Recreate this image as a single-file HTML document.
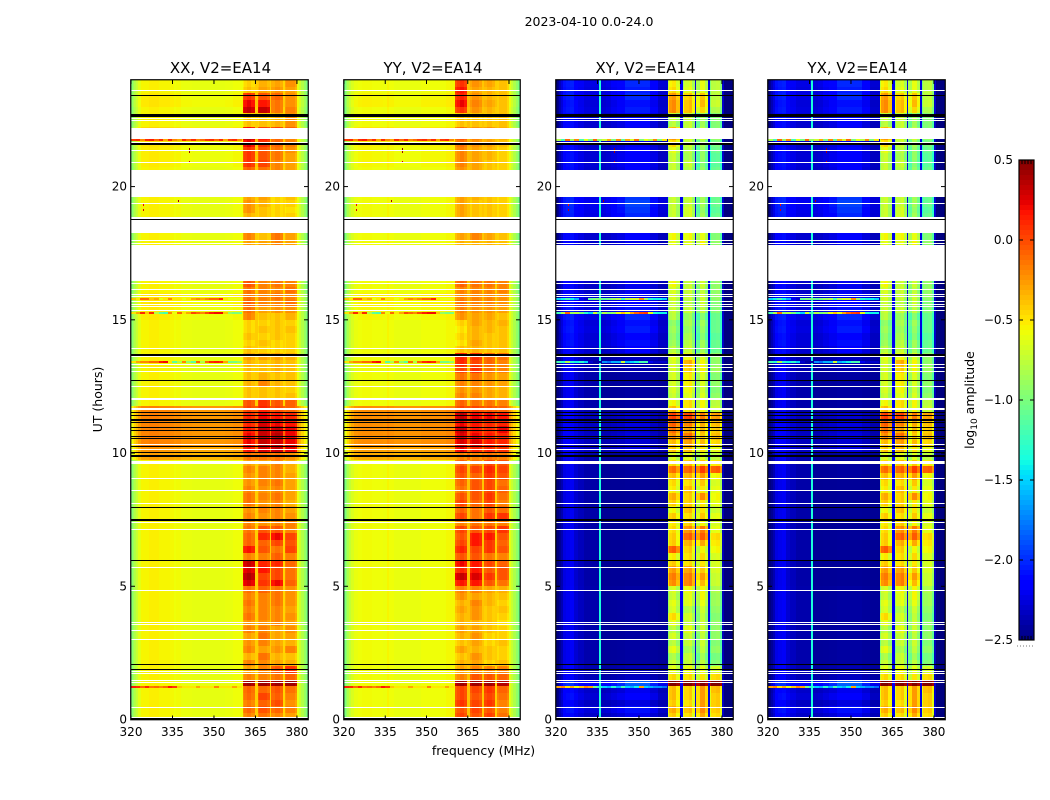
<!DOCTYPE html>
<html lang="en">
<head>
<meta charset="utf-8">
<title>2023-04-10 0.0-24.0</title>
<style>
html,body{margin:0;padding:0;background:#fff;}
svg{display:block;font-family:"DejaVu Sans","Liberation Sans",sans-serif;}
text{fill:#000;}
</style>
</head>
<body>
<svg id="figure" xmlns="http://www.w3.org/2000/svg" width="1050" height="800" viewBox="0 0 1050 800">
  <text x="589" y="26" font-size="12.5" text-anchor="middle">2023-04-10 0.0-24.0</text>
  <text x="483.5" y="755" font-size="12.5" text-anchor="middle">frequency (MHz)</text>
  <text transform="translate(102,399.5) rotate(-90)" font-size="12.5" text-anchor="middle">UT (hours)</text>
  <text transform="translate(974,400) rotate(-90)" font-size="12.5" text-anchor="middle">log<tspan font-size="9" dy="3">10</tspan><tspan dy="-3"> amplitude</tspan></text>
  <g id="panels"></g>
  <g id="colorbar"></g>
</svg>
<script>
// ---------- chart data ----------
const panelTitles = ["XX, V2=EA14", "YY, V2=EA14", "XY, V2=EA14", "YX, V2=EA14"];
const freqTicks = [320, 335, 350, 365, 380];
const utTicks = [0, 5, 10, 15, 20];
const colorbarTicks = [0.5, 0.0, -0.5, -1.0, -1.5, -2.0, -2.5];

// frequency column boundaries (MHz)
const channelEdges = [320,320.6,321.2,321.8,322.6,323.5,325,326.5,328,330,332,334,335.7,336.3,338,340,342,345,348,351,354,357,360.4,361,362,363.5,364.8,365.8,366.4,368,369.2,370.2,370.8,372,373.8,374.9,375.6,376.2,378,379.4,380,380.8,381.6,382.4,383.2,384];
// sub-band index of each column; -1 = out of band
const channelBand = [-1,-1,-1,-1,-1,-1,-1,-1,-1,-1,-1,-1,-1,-1,-1,-1,-1,-1,-1,-1,-1,-1,0,0,0,0,-1,1,1,1,1,-1,2,2,2,-1,3,3,3,3,-1,-1,-1,-1,-1];

// per-column spectral level (log10 amp); in-band columns are offsets from the band value
const xxChannels = [-0.95,-0.88,-0.8,-0.72,-0.62,-0.55,-0.55,-0.53,-0.53,-0.55,-0.55,-0.56,-0.58,-0.57,-0.6,-0.6,-0.61,-0.61,-0.61,-0.61,-0.6,-0.58,-0.18,-0.12,-0.07,-0.13,-0.42,-0.15,-0.08,-0.08,-0.13,-0.42,-0.13,-0.08,-0.13,-0.45,-0.13,-0.08,-0.08,-0.15,-0.6,-0.7,-0.8,-0.9,-1.0];
const yyChannels = [-1.0,-0.92,-0.82,-0.74,-0.66,-0.6,-0.58,-0.57,-0.57,-0.58,-0.58,-0.59,-0.55,-0.58,-0.6,-0.6,-0.6,-0.6,-0.58,-0.58,-0.58,-0.56,-0.18,-0.12,-0.07,-0.13,-0.38,-0.15,-0.08,-0.08,-0.13,-0.4,-0.13,-0.08,-0.13,-0.42,-0.13,-0.08,-0.08,-0.15,-0.62,-0.72,-0.82,-0.92,-1.02];
const crossChannels = [-2.5,-2.5,-2.45,-2.38,-2.25,-2.22,-2.2,-2.3,-2.35,-2.4,-2.4,-2.4,-1.35,-2.45,-2.45,-2.45,-2.45,-2.45,-2.45,-2.45,-2.45,-2.45,-0.12,0.1,0.15,-0.02,-2.2,-0.08,0.1,0.15,-0.05,-2.25,-0.08,0.15,-0.05,-2.25,-0.1,0.12,0.15,-0.05,-2.35,-2.5,-2.5,-2.5,-2.5];
// how strongly the per-row background level shows in each cross-hand column
const crossWeights = [0,0.1,0.2,0.25,0.3,0.3,0.3,0.3,0.3,0.3,0.3,0.3,0,0.35,0.4,0.5,0.6,0.8,0.8,0.8,0.55,0.3,0,0,0,0,0,0,0,0,0,0,0,0,0,0,0,0,0,0,0.1,0,0,0,0];

// out-of-band level per quarter-hour row, UT 0 upward
const copolRowLevels = [0,0,0,0, 0,0,0,0, 0,0,0,0, 0,0,0,0, 0,0,0,0, 0,0,0,0, 0,0,0,0, 0,0,0,0, 0,0,0,0, 0,0,0,0.26, 0.3,0.36,0.36,0.36, 0.36,0.36,0.36,0, 0,0,0,0, 0,0,0,0, 0,0,0,0, 0.02,0.02,0.04,0.04, 0,0,0,0, 0,0,0,0, 0,0,0,0, 0,0,0,0, 0,0,0,0.02, 0.02,0.02,0.04,0.04, 0.08,0,0,0, 0.04,0.02,0,0];
const crossRowLevels = [0.3,0.45,0.25,0.4, 0.3,0.75,0.15,0.1, 0.05,0.05,0.05,0.05, 0.05,0.05,0.05,0.05, 0.05,0.05,0.05,0.05, 0.02,0.02,0.02,0.02, 0.02,0.02,0.02,0.02, 0.02,0.02,0.02,0.02, 0.02,0.02,0.02,0.02, 0.05,0.05,0.05,0.05, 0.25,0.2,0.25,0.2, 0.25,0.2,0.05,0.05, 0.05,0.05,0.05,0.05, 0.1,0.1,0.15,0.35, 0.45,0.4,0.5,0.45, 0.55,0.45,0.4,0.4, 0.3,0.3,0,0, 0,0,0,0.3, 0.35,0.35,0,0.55, 0.6,0.65,0.6,0.55, 0,0,0.35,0.4, 0.4,0.35,0.3,0.45, 0.3,0.35,0.35,0.5, 0.45,0.55,0.5,0.55];

// sub-band level [band0,band1,band2,band3] per quarter-hour row, UT 0 upward
const xxBands = [
[-.1,-.05,-.1,-.2],[-.02,.05,0,-.1],[-.08,0,.08,-.15],[-.02,.1,.02,-.1],
[0,-.02,.05,-.05],[.5,.5,.5,.5],[-.1,-.1,-.05,0],[-.2,-.1,.05,.15],
[-.1,-.12,-.2,-.25],[-.25,-.05,-.25,-.3],[-.1,-.2,-.15,-.1],[-.15,-.1,-.2,-.25],
[-.2,-.05,-.2,-.2],[-.1,-.1,-.2,-.15],[-.15,-.15,-.1,-.2],[-.05,-.1,-.1,-.15],
[-.1,-.1,-.1,-.2],[-.05,-.1,-.05,-.15],[-.1,-.1,-.05,-.15],[-.05,0,-.05,-.15],
[.35,.15,.3,0],[.45,.1,.1,-.05],[.35,.25,.1,-.05],[.4,.2,.2,-.02],
[-.1,-.1,.02,-.1],[.25,.05,-.05,.1],[0,0,.1,.05],[0,.2,.3,.1],
[-.05,.05,.05,-.1],[-.1,-.15,-.1,-.1],[-.1,-.15,-.1,-.15],[-.15,-.1,-.1,-.2],
[-.05,-.15,-.1,-.25],[-.05,-.1,-.05,-.2],[-.1,-.15,-.1,-.2],[-.15,-.1,-.05,-.2],
[-.15,-.1,-.1,-.2],[-.1,-.1,-.1,-.25],[-.2,-.2,-.1,-.25],[-.05,-.05,-.05,-.15],
[.25,.35,.4,.3],[.3,.4,.4,.3],[.3,.4,.45,.3],[.25,.4,.4,.3],
[.2,.35,.3,.25],[.2,.3,.25,.2],[.1,.2,.1,0],[.05,.15,.05,0],
[-.3,-.3,-.3,-.3],[-.3,-.3,-.3,-.35],[-.25,-.1,-.25,-.3],[-.3,-.25,-.3,-.3],
[-.3,-.3,-.25,-.3],[-.25,-.3,-.25,-.3],[-.2,-.2,-.2,-.25],[-.3,-.35,-.35,-.35],
[-.35,-.3,-.35,-.35],[-.3,-.35,-.3,-.35],[-.35,-.3,-.3,-.3],[-.35,-.35,-.3,-.35],
[-.1,-.3,-.3,-.25],[-.05,-.2,-.15,-.15],[0,-.1,-.1,-.05],[-.05,-.1,-.05,-.1],
[-.05,-.1,-.1,-.05],[.05,-.1,-.05,-.1],[0,0,0,0],[0,0,0,0],
[0,0,0,0],[0,0,0,0],[0,0,0,0],[-.2,-.2,-.1,-.2],
[-.1,-.3,-.05,-.2],[-.25,-.1,-.05,-.2],[0,0,0,0],[-.25,-.3,-.35,-.35],
[-.15,-.3,-.35,-.4],[-.15,-.25,-.35,-.35],[-.2,-.2,-.35,-.3],[-.25,-.3,-.3,-.15],
[0,0,0,0],[0,0,0,0],[0,-.05,-.1,-.2],[.15,.1,-.1,-.2],
[.15,.05,-.05,-.2],[.15,.05,-.05,-.15],[.3,.15,0,-.1],[.4,.25,0,-.1],
[.25,.1,.1,0],[-.3,-.3,-.25,-.15],[-.3,-.3,-.25,-.15],[.4,.4,-.05,-.1],
[.3,.25,-.05,-.15],[.15,.05,0,-.15],[-.3,-.2,-.15,-.2],[-.35,-.25,-.2,-.15]];
const yyBands = [
[.1,.05,.12,-.05],[.05,.1,.05,-.1],[.15,.1,.15,-.1],[.1,.05,.1,-.05],
[.1,.1,.15,0],[.5,.5,.5,.45],[-.1,.05,.05,0],[-.2,-.1,-.1,-.1],
[-.25,-.2,-.35,-.3],[-.3,-.15,-.3,-.35],[-.2,-.25,-.3,-.35],[-.3,-.2,-.35,-.3],
[-.25,-.15,-.35,-.35],[-.2,-.2,-.3,-.35],[-.25,-.25,-.3,-.4],[-.25,-.15,-.3,-.35],
[-.2,-.15,-.3,-.3],[-.25,-.1,-.25,-.35],[-.15,-.2,-.25,-.3],[-.1,-.1,-.2,-.25],
[.25,.25,.05,-.05],[.4,.35,.15,.05],[.2,.25,.05,.05],[.3,.25,.1,0],
[.05,.05,-.05,-.1],[.2,.1,.15,.05],[.1,.25,.15,0],[.05,.25,.25,.05],
[.1,.05,.1,.15],[-.1,-.05,-.05,-.1],[.1,-.05,.15,.15],[0,-.05,.05,-.05],
[.1,0,.1,-.1],[.05,.05,.15,-.05],[-.05,.05,.1,0],[0,.05,.1,-.05],
[.05,0,.15,.05],[.1,.1,.2,.1],[0,-.05,.1,.05],[-.1,-.1,-.05,-.1],
[.3,.2,.2,.15],[.35,.35,.25,.2],[.35,.3,.25,.2],[.4,.25,.2,.3],
[.3,.25,.2,.2],[.4,.3,.3,.25],[.1,.1,.05,0],[0,-.05,-.05,-.1],
[-.1,-.1,-.2,-.25],[-.15,-.15,-.2,-.25],[-.1,-.1,-.15,-.2],[-.05,-.05,-.15,-.2],
[.1,.15,-.05,-.1],[.2,.1,0,-.1],[.2,.15,0,-.05],[-.3,-.25,-.3,-.3],
[-.4,-.2,-.3,-.3],[-.35,-.25,-.3,-.3],[-.4,-.25,-.25,-.3],[-.35,-.2,-.25,-.25],
[-.15,-.2,-.2,-.3],[-.1,-.15,-.15,-.2],[-.05,-.1,-.1,-.15],[-.1,-.1,-.1,-.15],
[-.1,-.1,-.1,-.1],[0,-.05,-.05,-.1],[0,0,0,0],[0,0,0,0],
[0,0,0,0],[0,0,0,0],[0,0,0,0],[-.25,-.25,-.25,-.3],
[-.2,-.1,-.2,-.3],[-.25,-.2,-.2,-.3],[0,0,0,0],[-.2,-.3,-.3,-.35],
[-.2,-.3,-.3,-.35],[-.2,-.3,-.3,-.35],[-.2,-.25,-.3,-.35],[-.15,-.25,-.3,-.3],
[0,0,0,0],[0,0,0,0],[-.15,-.2,-.3,-.35],[-.1,-.2,-.3,-.35],
[-.1,-.2,-.25,-.35],[-.1,-.2,-.25,-.35],[-.05,-.15,-.2,-.3],[.05,-.1,-.2,-.25],
[-.05,-.15,-.15,-.25],[-.3,-.3,-.3,-.3],[-.3,-.3,-.3,-.3],[.15,-.15,-.25,-.3],
[.3,-.1,-.2,-.3],[.2,-.15,-.25,-.3],[.25,-.2,-.25,-.3],[.15,-.15,-.2,-.3]];
const crossBands = [
[-.55,-.6,-.45,-.6],[-.45,-.5,-.35,-.55],[-.55,-.6,-.4,-.55],[-.5,-.55,-.4,-.55],
[-.5,-.55,-.4,-.5],[.45,.45,.45,.45],[-.6,-.6,-.65,-.6],[-.75,-.7,-.75,-.8],
[-.85,-.85,-.9,-1.1],[-.95,-.85,-1,-1.15],[-.75,-.95,-.9,-1.05],[-.9,-.85,-.85,-1.1],
[-.8,-.85,-.9,-1.05],[-.9,-.75,-.85,-1.05],[-.75,-.85,-.85,-1.05],[-.6,-.8,-.9,-1.1],
[-.8,-.9,-.85,-1.05],[-.75,-.75,-.75,-1],[-.85,-.75,-.7,-1],[-.8,-.7,-.7,-.95],
[-.35,-.3,-.5,-.85],[-.3,-.3,-.4,-.85],[-.4,-.4,-.55,-.8],[-.55,-.6,-.65,-.8],
[-.65,-.6,-.6,-.8],[-.2,-.55,-.7,-.7],[-.55,-.45,-.45,-.65],[-.55,-.2,-.2,-.6],
[-.6,-.35,-.3,-.75],[-.65,-.55,-.7,-.8],[-.55,-.6,-.55,-.75],[-.7,-.5,-.65,-.85],
[-.55,-.55,-.65,-.75],[-.45,-.55,-.35,-.7],[-.65,-.5,-.65,-.75],[-.6,-.6,-.55,-.8],
[-.5,-.45,-.4,-.7],[-.25,-.2,-.1,-.2],[-.6,-.5,-.55,-.65],[-.8,-.75,-.8,-.9],
[-.55,-.5,-.65,-.75],[-.5,-.4,-.5,-.6],[-.35,-.25,-.55,-.5],[-.25,-.4,-.5,-.55],
[-.2,-.3,-.45,-.5],[-.1,-.1,-.3,-.4],[-.5,-.6,-.7,-.85],[-.7,-.6,-.7,-.9],
[-.85,-.75,-.8,-1.05],[-.8,-.7,-.85,-1.1],[-.8,-.65,-.8,-1.05],[-.8,-.65,-.8,-1.1],
[-.8,-.55,-.7,-1],[-.8,-.45,-.7,-1.05],[-.75,-.7,-.8,-1.05],[-.9,-.85,-1,-1.2],
[-1,-.9,-1,-1.2],[-1.05,-.95,-1.1,-1.25],[-1,-1,-1.05,-1.2],[-1.05,-.95,-1,-1.2],
[-.9,-1,-1.1,-1.2],[-.85,-.85,-.9,-1.1],[-.85,-.9,-.85,-1.1],[-.8,-.85,-.85,-1.05],
[-.8,-.85,-.9,-1.05],[-.7,-.85,-.85,-1.05],[0,0,0,0],[0,0,0,0],
[0,0,0,0],[0,0,0,0],[0,0,0,0],[-.75,-.75,-.7,-1.05],
[-.7,-.7,-.75,-1.1],[-.75,-.7,-.75,-1.1],[0,0,0,0],[-.85,-.8,-1,-1.2],
[-.85,-.8,-1.05,-1.25],[-.85,-.85,-1,-1.2],[-.85,-.85,-1,-1.2],[-.8,-.85,-1,-1.15],
[0,0,0,0],[0,0,0,0],[-.85,-.9,-1.05,-1.2],[-.85,-.85,-1.1,-1.25],
[-.85,-.95,-1.05,-1.25],[-.75,-.9,-1.05,-1.2],[-.6,-.85,-1,-1.15],[-.4,-.8,-.85,-1.05],
[-.5,-.85,-.9,-1.1],[-.9,-.85,-1,-1.1],[-.85,-.85,-1,-1.1],[-.35,-.5,-.6,-.95],
[-.35,-.5,-.5,-.85],[-.4,-.55,-.55,-.9],[-.6,-.75,-.75,-.9],[-.65,-.8,-.75,-.9]];

// masked integrations drawn white: [UT low, UT high]
const maskedSpans = [[.06,.09],[.44,.48],[1.37,1.41],[1.44,1.48],[1.71,1.75],[1.77,1.81],[2.99,3.03],[3.33,3.37],[3.53,3.57],[3.61,3.65],[4.83,4.87],[5.69,5.73],[7.12,7.16],[7.38,7.42],[8.08,8.12],[8.57,8.61],[9.02,9.06],[9.59,9.70],[10.12,10.16],[10.30,10.34],[11.61,11.69],[12.00,12.05],[12.48,12.52],[13.05,13.09],[13.20,13.24],[13.29,13.33],[13.62,13.66],[13.90,13.94],[15.32,15.37],[15.47,15.51],[15.55,15.59],[15.66,15.70],[15.86,15.90],[15.93,15.97],[16.13,16.17],[16.36,16.40],[16.47,17.80],[17.86,17.90],[17.95,17.99],[18.27,18.76],[18.79,18.87],[19.34,19.38],[19.62,20.62],[20.88,20.92],[21.33,21.37],[21.63,21.68],[21.77,22.21],[22.47,22.51],[22.55,22.59],[23.60,23.64]];
// zero-amplitude integrations drawn black: [UT low, UT high]
const zeroSpans = [[0,.04],[1.84,1.89],[2.04,2.08],[5.95,5.98],[7.46,7.53],[7.93,7.99],[9.86,9.93],[9.99,10.03],[10.22,10.26],[10.51,10.55],[10.61,10.65],[10.81,10.85],[10.93,10.97],[11.12,11.16],[11.22,11.26],[11.39,11.43],[11.51,11.55],[12.71,12.75],[13.66,13.72],[18.76,18.79],[21.57,21.63],[22.62,22.72],[23.40,23.44]];

// single integrations with strong interference, 320-360 MHz in 24 equal bins
const speckleTimes = [1.22, 13.4, 15.27, 15.78, 21.73];
const copolSpeckle = [
[.15,.1,-.1,.1,-.15,-.1,-.2,-.1,.15,.05,-.4,-.5,-.5,-.5,-.3,-.5,-.5,-.5,-.2,-.5,-.5,-.5,-.3,-.5],
[-.5,-.3,-.2,-.2,-.1,-.1,.15,.2,-.5,-1.1,-.8,-.2,-.9,-1.1,-.1,-.8,-.1,.1,.15,.1,-.3,-1,-1,-.9],
[-.5,-.3,.1,-.4,.1,-.8,-1.1,-1.2,-.2,-.6,-.1,-.5,-.3,0,-.1,-.2,0,.15,.2,.2,-.4,-.9,-1,-1],
[-.4,-.5,-.1,-.1,-.4,-.3,-.6,-.5,-.2,-.5,-.5,-.6,-.5,-.3,-.2,-.3,-.2,-.1,-.1,.1,-.5,-.6,-.6,-.6],
[.05,.1,-.2,.1,.15,-.1,.1,-.3,.1,-.2,-.3,.1,-.1,.1,-.2,-.1,.05,.1,-.1,.1,-.3,.05,.1,-.2]];
const crossSpeckle = [
[-.3,-.2,-.5,-.3,-.6,-.4,-.2,-.3,-1,-1.3,-1.5,-1.6,-1.3,-1.6,-1.2,-1.5,-1.6,-1.4,-.3,-1.5,-1.6,-1.7,-1.7,-1.8],
[-1.2,-1.3,-.8,-1.3,-1.4,-1.3,-1.5,-2.3,-2.4,-2.4,-1.7,-1.8,-1.6,-1.6,-.7,-1.6,-1.5,-1.4,-1.2,-1.2,-2.2,-2.3,-2.3,-2.3],
[-1.2,-.8,-.1,-.9,-.8,-1,-1.3,-1.5,-.7,-1.2,-.8,-1,-.9,-.6,-.4,-.6,-.3,-.1,0,.05,-.6,-1.3,-1.4,-1.4],
[-1.5,-1.4,-1.2,-1.4,-1.6,-2.2,-2.3,-1.1,-1,-1,-1.1,-1,-.9,-.8,-1.2,-.8,-.7,-.7,-.2,-.9,-1.3,-1.4,-1.4,-1.5],
[-.8,-1.2,-.1,-.9,-.2,-1.2,-.6,-1,-.1,-.9,-.7,-.3,-1,-.2,-1.1,-.3,-.7,-.1,-1,-.6,-.8,-.2,-1,-.5]];

// isolated outlier samples
const outlierFreqs = [341, 341, 341, 324.5, 324.5, 337];
const outlierTimes = [21.45, 21.35, 20.95, 19.35, 19.15, 19.5];
const outlierValues = [0.45, 0.4, 0.3, 0.2, 0.3, 0.4];

// ---------- geometry / scales ----------
const SVGNS = "http://www.w3.org/2000/svg";
const panelLefts = [131, 344, 556, 768];
const panelWidths = [177, 176, 177, 177];
const axisTop = 80, axisBottom = 719.5;
const freqMin = 320, freqMax = 384, utMin = 0, utMax = 24, rowStep = 0.25;
const xScale = (p, f) => panelLefts[p] + (f - freqMin) / (freqMax - freqMin) * panelWidths[p];
const yScale = ut => axisBottom - (ut - utMin) / (utMax - utMin) * (axisBottom - axisTop);

function jet(t) {
  t = Math.max(0, Math.min(1, t));
  const ramp = (pts) => {
    for (let i = 1; i < pts.length; i++) {
      if (t <= pts[i][0]) {
        const a = pts[i - 1], b = pts[i];
        return a[1] + (b[1] - a[1]) * (t - a[0]) / (b[0] - a[0]);
      }
    }
    return pts[pts.length - 1][1];
  };
  const r = ramp([[0,0],[.35,0],[.66,1],[.89,1],[1,.5]]);
  const g = ramp([[0,0],[.125,0],[.375,1],[.64,1],[.91,0],[1,0]]);
  const b = ramp([[0,.5],[.11,1],[.34,1],[.65,0],[1,0]]);
  return "rgb(" + Math.round(r * 255) + "," + Math.round(g * 255) + "," + Math.round(b * 255) + ")";
}
const colorOf = v => jet((v + 2.5) / 3);

function svgEl(parent, tag, attrs) {
  const e = document.createElementNS(SVGNS, tag);
  for (const k in attrs) e.setAttribute(k, attrs[k]);
  parent.appendChild(e);
  return e;
}

// ---------- panels ----------
const panelsRoot = document.getElementById("panels");
const panelChannels = [xxChannels, yyChannels, crossChannels, crossChannels];
const panelBands = [xxBands, yyBands, crossBands, crossBands];
const panelLevels = [copolRowLevels, copolRowLevels, crossRowLevels, crossRowLevels];
const panelSpeckle = [copolSpeckle, copolSpeckle, crossSpeckle, crossSpeckle];

panelTitles.forEach((title, p) => {
  const g = svgEl(panelsRoot, "g", {});
  
  
  const isCross = p >= 2;
  const rows = panelBands[p];
  const panelWidth = panelWidths[p];

  rows.forEach((row, r) => {
    const yTop = Math.round(yScale((r + 1) * rowStep));
    const yBot = Math.round(yScale(r * rowStep));
    for (let c = 0; c < channelBand.length; c++) {
      const band = channelBand[c];
      let v;
      if (band >= 0) {
        v = row[band] + panelChannels[p][c];
      } else if (isCross) {
        v = panelChannels[p][c] + panelLevels[p][r] * crossWeights[c];
      } else {
        v = panelChannels[p][c] + panelLevels[p][r];
      }
      const x0 = Math.round(xScale(p, channelEdges[c]));
      const x1 = Math.round(xScale(p, channelEdges[c + 1]));
      const cell = svgEl(g, "rect", {x: x0, y: yTop, width: x1 - x0, height: yBot - yTop, fill: colorOf(v)});
      
      
    }
  });

  speckleTimes.forEach((ut, i) => {
    const vals = panelSpeckle[p][i];
    const y = Math.round(yScale(ut)) - 1;
    vals.forEach((v, b) => {
      const f0 = 320 + b * (40 / vals.length), f1 = f0 + 40 / vals.length;
      const x0 = Math.round(xScale(p, f0)), x1 = Math.round(xScale(p, f1));
      const s = svgEl(g, "rect", {x: x0, y: y, width: x1 - x0, height: 2, fill: colorOf(v)});
      
      
    });
  });

  outlierFreqs.forEach((f, i) => {
    const s = svgEl(g, "rect", {x: Math.round(xScale(p, f)), y: Math.round(yScale(outlierTimes[i])), width: 1, height: 2, fill: colorOf(outlierValues[i])});
    
    
  });

  const drawSpans = (spans, fill, name) => spans.forEach(sp => {
    const yT = Math.round(yScale(sp[1]));
    const yB = Math.round(yScale(sp[0]));
    const s = svgEl(g, "rect", {x: panelLefts[p], y: yT, width: panelWidth, height: Math.max(1, yB - yT), fill: fill});
    
    
  });
  drawSpans(maskedSpans, "#fff", "masked-integration");
  drawSpans(zeroSpans, "#000", "zero-integration");

  const frame = svgEl(g, "rect", {x: panelLefts[p] - 0.25, y: axisTop - 0.25, width: panelWidth + 0.5, height: axisBottom - axisTop + 0.5, fill: "none", stroke: "#000", "stroke-width": 1.2});
  
  

  const ttl = svgEl(g, "text", {x: panelLefts[p] + panelWidth / 2 + 1, y: 73, "font-size": 15, "text-anchor": "middle"});
  ttl.textContent = title;
  
  

  freqTicks.forEach(f => {
    const x = xScale(p, f);
    [[axisBottom, axisBottom - 4], [axisTop, axisTop + 4]].forEach(t => {
      const l = svgEl(g, "line", {x1: x, x2: x, y1: t[0], y2: t[1], stroke: "#000", "stroke-width": 1});
      
      
    });
    const lab = svgEl(g, "text", {x: x, y: 736, "font-size": 12, "text-anchor": "middle"});
    lab.textContent = String(f);
    
    
  });

  utTicks.forEach(u => {
    const y = yScale(u);
    const x0 = panelLefts[p], x1 = panelLefts[p] + panelWidth;
    [[x0, x0 + 4], [x1, x1 - 4]].forEach(t => {
      const l = svgEl(g, "line", {x1: t[0], x2: t[1], y1: y, y2: y, stroke: "#000", "stroke-width": 1});
      
      
    });
    const lab = svgEl(g, "text", {x: x0 - 4, y: y + 4, "font-size": 12, "text-anchor": "end"});
    lab.textContent = String(u);
    
    
  });
});

// ---------- colorbar ----------
const cbRoot = document.getElementById("colorbar");
const cbLeft = 1019, cbRight = 1034, cbTop = 160, cbBottom = 640;
const cbScale = v => cbBottom - (v + 2.5) / 3 * (cbBottom - cbTop);
const cbSteps = 96;
for (let i = 0; i < cbSteps; i++) {
  const v0 = -2.5 + 3 * i / cbSteps, v1 = -2.5 + 3 * (i + 1) / cbSteps;
  const yT = Math.round(cbScale(v1)), yB = Math.round(cbScale(v0));
  const seg = svgEl(cbRoot, "rect", {x: cbLeft, y: yT, width: cbRight - cbLeft, height: yB - yT, fill: colorOf((v0 + v1) / 2)});
  
  
}
const cbFrame = svgEl(cbRoot, "rect", {x: cbLeft, y: cbTop, width: cbRight - cbLeft, height: cbBottom - cbTop, fill: "none", stroke: "#000", "stroke-width": 1.2});


colorbarTicks.forEach(v => {
  const y = cbScale(v);
  [[cbLeft, cbLeft + 4], [cbRight, cbRight - 4]].forEach(t => {
    const l = svgEl(cbRoot, "line", {x1: t[0], x2: t[1], y1: y, y2: y, stroke: "#000", "stroke-width": 1});
    
    
  });
  const lab = svgEl(cbRoot, "text", {x: 1013, y: y + 4, "font-size": 12, "text-anchor": "end"});
  lab.textContent = (v < 0 ? "\u2212" : "") + Math.abs(v).toFixed(1);
  
  
});
for (let i = 1; i <= 4; i++) {
  const x = cbLeft + i * (cbRight - cbLeft) / 5;
  [[cbTop, cbTop + 4], [cbBottom, cbBottom - 4]].forEach(t => {
    const l = svgEl(cbRoot, "line", {x1: x, x2: x, y1: t[0], y2: t[1], stroke: "#000", "stroke-width": 1});
    
    
  });
}
const cbDots = svgEl(cbRoot, "line", {x1: 1017, x2: 1035, y1: 646, y2: 646, stroke: "#777", "stroke-width": 1, "stroke-dasharray": "1 2"});


</script>
</body>
</html>
